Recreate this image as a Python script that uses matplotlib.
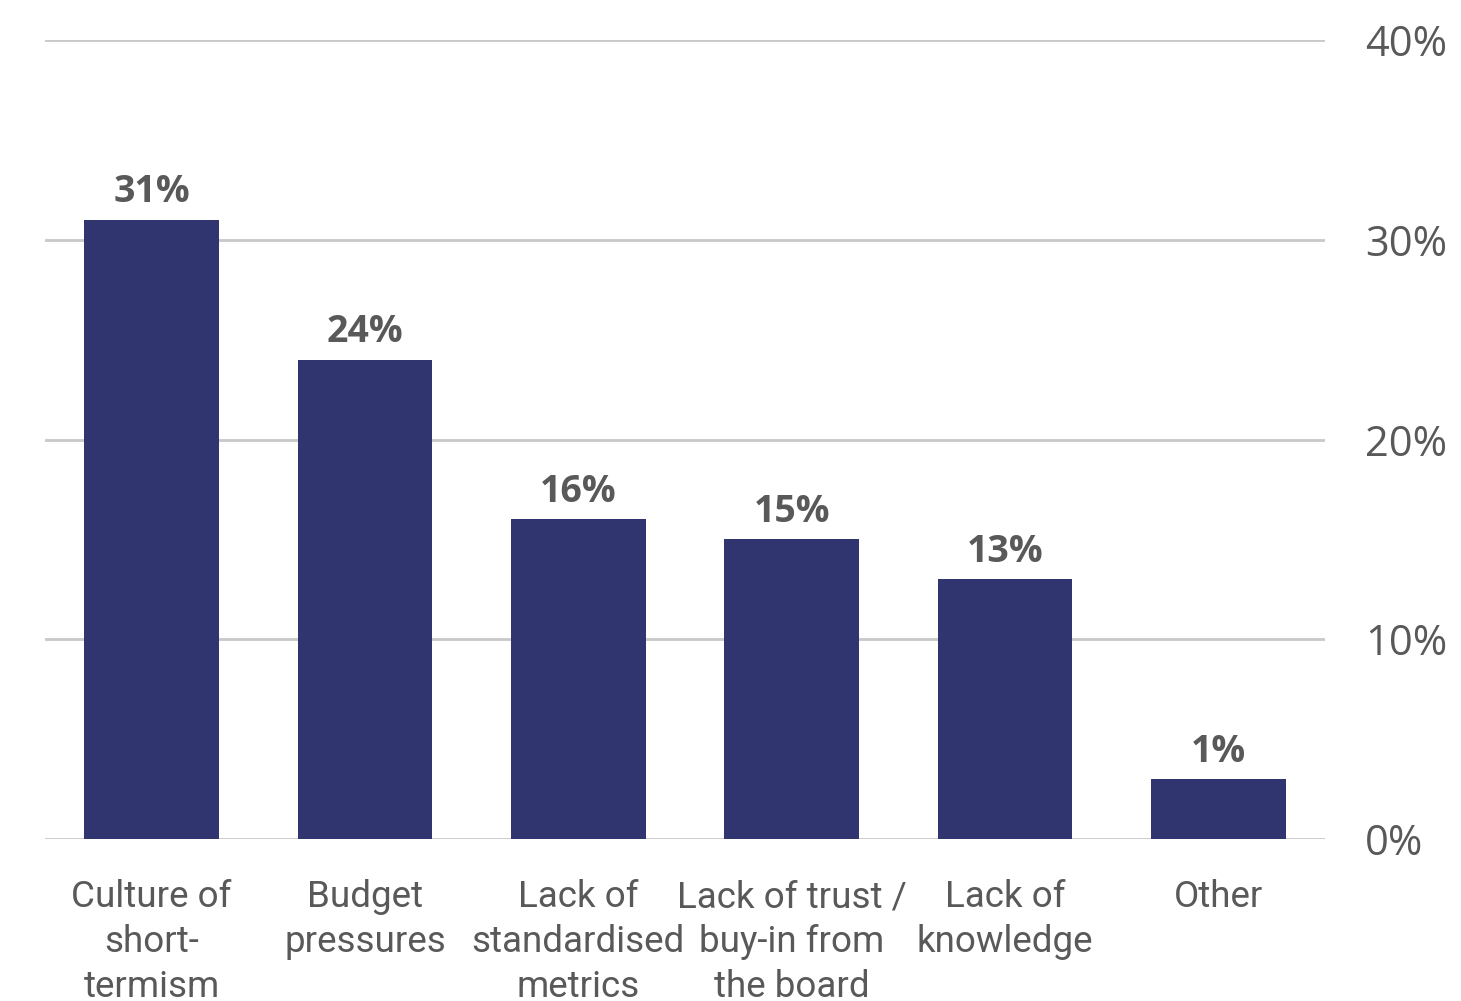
import matplotlib.pyplot as plt

categories = ['Culture of\nshort-\ntermism', 'Budget\npressures', 'Lack of\nstandardised\nmetrics',
              'Lack of trust /\nbuy-in from\nthe board', 'Lack of\nknowledge', 'Other']
heights = [31, 24, 16, 15, 13, 3]
value_labels = ['31%', '24%', '16%', '15%', '13%', '1%']
yticks = [0, 10, 20, 30, 40]
ytick_labels = ['0%', '10%', '20%', '30%', '40%']

bar_color = '#31356f'
text_color = '#595959'
grid_color = '#c8c8c8'

fig = plt.figure(figsize=(14.61, 10.01), dpi=100)
ax = fig.add_axes([45 / 1461, 162 / 1001, 1280 / 1461, 799 / 1001])

x = range(len(categories))
bars = ax.bar(x, heights, width=0.63, color=bar_color, zorder=3)

for b, lab in zip(bars, value_labels):
    ax.annotate(lab, (b.get_x() + b.get_width() / 2, b.get_height()),
                xytext=(0, 6), textcoords='offset points', ha='center', va='bottom',
                fontsize=27, fontweight='bold', color=text_color, family='Open Sans')

ax.set_xlim(-0.5, len(categories) - 0.5)
ax.set_ylim(0, 40)
ax.set_yticks(yticks)
ax.set_yticklabels(ytick_labels)
ax.yaxis.tick_right()
ax.tick_params(axis='y', length=0, pad=29, labelsize=30, labelcolor=text_color)
for t in ax.get_yticklabels():
    t.set_family('Open Sans')
    t.set_ha('left')

ax.set_xticks(list(x))
ax.set_xticklabels(categories, family='Roboto', fontsize=26.5, color=text_color, linespacing=1.31)
ax.tick_params(axis='x', length=0, pad=29)

ax.yaxis.grid(True, color=grid_color, linewidth=2, zorder=0)
for s in ax.spines.values():
    s.set_visible(False)

fig.savefig('out.png', dpi=100)
